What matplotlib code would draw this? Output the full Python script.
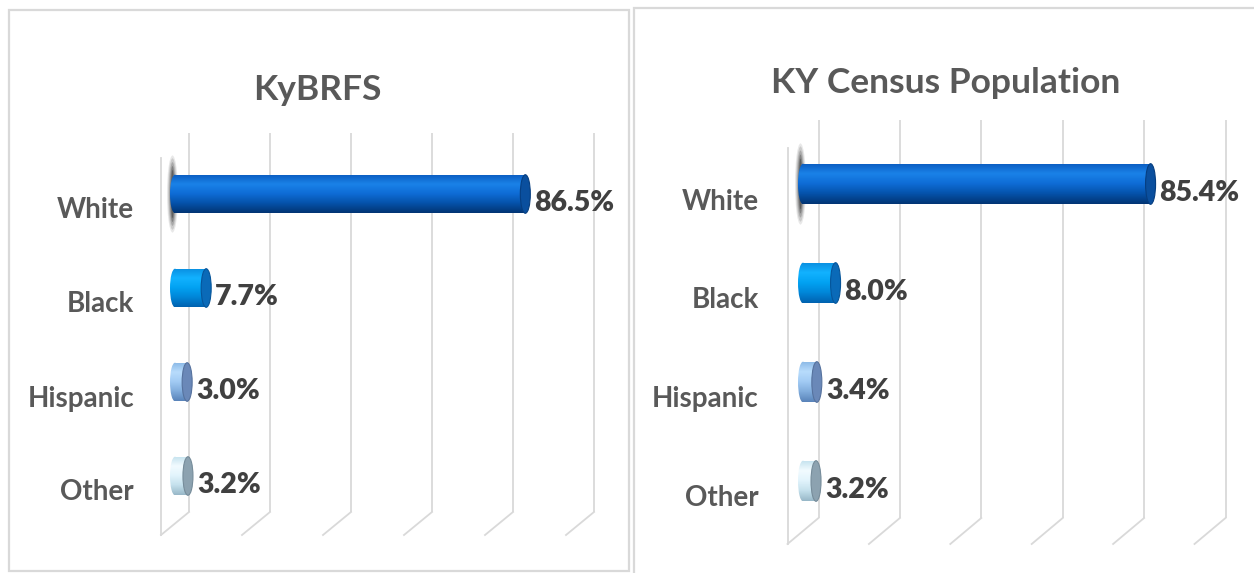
import numpy as np
import matplotlib
matplotlib.use('Agg')
import matplotlib.pyplot as plt
from matplotlib.patches import Rectangle, Ellipse
from matplotlib.colors import LinearSegmentedColormap
from matplotlib.transforms import ScaledTranslation, blended_transform_factory

# ---------------- data ----------------
categories = ['White', 'Black', 'Hispanic', 'Other']
kybrfs_values = [86.5, 7.7, 3.0, 3.2]
census_values = [85.4, 8.0, 3.4, 3.2]
panel_titles = ['KyBRFS', 'KY Census Population']
x_ticks = [0, 20, 40, 60, 80, 100]

# ---------------- style ----------------
W, H = 1254, 573
DPI = 100
plt.rcParams['font.family'] = ['Lato', 'DejaVu Sans']

GRID = '#d9d9d9'
LABEL_C = '#595959'
VALUE_C = '#404040'

# body gradient stops (top -> bottom), end-cap fill and edge for each category
bar_styles = [
    (['#0b5cc0', '#1a82e8', '#0e6cd6', '#0552aa', '#023574'], '#0a4f9e', '#063e80'),
    (['#0a8ee0', '#12b2ff', '#02a2f2', '#0086d8', '#0062b0'], '#0a6ab8', '#06559a'),
    (['#8ab8e6', '#b8dcfc', '#a2cbf4', '#80acdc', '#5a84ba'], '#6a88b8', '#56729e'),
    (['#c4e2ee', '#f2fbff', '#e2f4fc', '#c4e0ec', '#98b8c8'], '#8ca2b0', '#768c9a'),
]

layouts = [
    dict(x0=175, px_per=4.05, y_top=133, y_bot=535, back_bot=512, front_top=158,
         first=194, step=94, depth=14, label_gap=41, label_dy=14,
         box=(9, 10, 629, 571), title_x=317, title_base=100),
    dict(x0=803, px_per=4.07, y_top=120, y_bot=544, back_bot=518, front_top=148,
         first=184, step=99, depth=15.5, label_gap=44, label_dy=15,
         box=(634, 8, 1262, 582), title_x=946, title_base=93),
]
MARGIN = 24  # px of extra axes room left of zero

fig = plt.figure(figsize=(W / DPI, H / DPI), dpi=DPI)
fig.patch.set_facecolor('white')


def draw_panel(lay, values, title):
    bx0, by0, bx1, by1 = lay['box']
    fig.add_artist(Rectangle((bx0 / W, 1 - by1 / H), (bx1 - bx0) / W, (by1 - by0) / H,
                             transform=fig.transFigure, fill=False, ec=GRID, lw=1.6))
    fig.text(lay['title_x'] / W, 1 - lay['title_base'] / H, title, ha='center',
             va='baseline', fontsize=25.5, fontweight='bold', color=LABEL_C)

    ppu = lay['px_per']
    xmin = -MARGIN / ppu
    left = (lay['x0'] - MARGIN) / W
    width = (100 * ppu + MARGIN) / W
    bottom = 1 - lay['y_bot'] / H
    height = (lay['y_bot'] - lay['y_top']) / H
    ax = fig.add_axes([left, bottom, width, height])
    ax.set_facecolor('none')
    for s in ax.spines.values():
        s.set_visible(False)

    ylo = (lay['y_bot'] - lay['first']) / lay['step']
    yhi = (lay['y_top'] - lay['first']) / lay['step']

    # 3-D style gridlines
    blend = blended_transform_factory(ax.transData, ax.transAxes)
    d = lay['depth'] / ppu
    a_bb = (lay['y_bot'] - lay['back_bot']) / (lay['y_bot'] - lay['y_top'])
    a_ft = (lay['y_bot'] - lay['front_top']) / (lay['y_bot'] - lay['y_top'])
    for t in x_ticks:
        ax.plot([t + d, t + d], [a_bb, 1], transform=blend, color=GRID, lw=1.3,
                clip_on=False, zorder=1, solid_capstyle='butt')
        ax.plot([t + d, t - d], [a_bb, 0], transform=blend, color=GRID, lw=1.3,
                clip_on=False, zorder=1)
    ax.plot([x_ticks[0] - d, x_ticks[0] - d], [0, a_ft], transform=blend, color=GRID,
            lw=1.3, clip_on=False, zorder=1)

    h = 0.41
    ew = 10 / ppu
    imax = int(np.argmax(values))
    for i, v in enumerate(values):
        stops, cap_c, cap_e = bar_styles[i]
        cmap = LinearSegmentedColormap.from_list('c%d' % i, stops)
        grad = cmap(np.linspace(0, 1, 64))[:, None, :]

        if i == imax:
            for sw, sh, al in [(11, 2.0, 0.10), (9, 1.85, 0.14), (7, 1.65, 0.2),
                               (5, 1.45, 0.28), (3, 1.25, 0.35)]:
                ax.add_patch(Ellipse((-2.5 / ppu, i), sw / ppu, h * sh, fc='#202020',
                                     ec='none', alpha=al, zorder=2, clip_on=False))

        body = Rectangle((0, i - h / 2), v, h, fc='none', ec='none', zorder=3)
        lcap = Ellipse((0, i), ew, h, fc='none', ec='none', zorder=3)
        ax.add_patch(body)
        ax.add_patch(lcap)
        for patch in (body, lcap):
            im = ax.imshow(grad, extent=(-ew / 2, v, i + h / 2, i - h / 2), aspect='auto',
                           origin='upper', interpolation='bilinear', zorder=3)
            im.set_clip_path(patch)
        ax.add_patch(Ellipse((v, i), ew, h, fc=cap_c, ec=cap_e, lw=0.8, zorder=4))

        ax.annotate(f'{v:.1f}%', xy=(v, i), xytext=(6.5, -5), textcoords='offset points',
                    ha='left', va='center_baseline', fontsize=20.5, fontweight='heavy',
                    color=VALUE_C, zorder=5)

    ax.set_xlim(xmin, 100)
    ax.set_ylim(ylo, yhi)
    ax.set_xticks([])
    ax.set_yticks(range(len(categories)), categories)
    ax.tick_params(axis='y', length=0, pad=(lay['label_gap'] - MARGIN) * 72 / DPI,
                   labelsize=20, labelcolor=LABEL_C)
    off = ScaledTranslation(0, -lay['label_dy'] / DPI, fig.dpi_scale_trans)
    for lab in ax.get_yticklabels():
        lab.set_fontweight('bold')
        lab.set_transform(lab.get_transform() + off)
    return ax


draw_panel(layouts[0], kybrfs_values, panel_titles[0])
draw_panel(layouts[1], census_values, panel_titles[1])

fig.savefig('out.png', dpi=DPI, facecolor='white')
